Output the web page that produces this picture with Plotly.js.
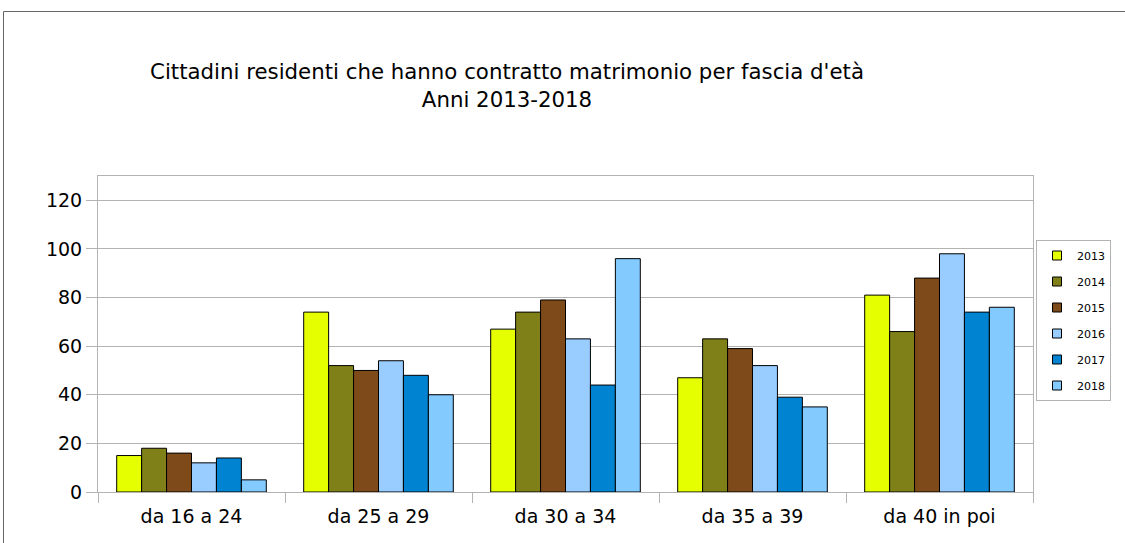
<!DOCTYPE html>
<html>
<head>
<meta charset="utf-8">
<script src="https://cdn.plot.ly/plotly-3.0.1.min.js"></script>
<style>html,body{margin:0;padding:0;background:#fff}#chart{width:1125px;height:543px}</style>
</head>
<body>
<div id="chart"></div>
<script>
const categories = ["da 16 a 24", "da 25 a 29", "da 30 a 34", "da 35 a 39", "da 40 in poi"];
const years = ["2013", "2014", "2015", "2016", "2017", "2018"];
const v2013 = [15, 74, 67, 47, 81];
const v2014 = [18, 52, 74, 63, 66];
const v2015 = [16, 50, 79, 59, 88];
const v2016 = [12, 54, 63, 52, 98];
const v2017 = [14, 48, 44, 39, 74];
const v2018 = [5, 40, 96, 35, 76];
const yTicks = [0, 20, 40, 60, 80, 100, 120];
const colors = ["#e6ff00", "#808019", "#7e4a1a", "#99ccff", "#0084d1", "#83caff"];
const series = [v2013, v2014, v2015, v2016, v2017, v2018];

const font = "DejaVu Sans, Verdana, sans-serif";
const traces = series.map((vals, i) => ({
  type: "bar",
  name: years[i],
  x: categories,
  y: vals,
  showlegend: false,
  marker: {color: colors[i], line: {color: "#000", width: 1}},
  hoverinfo: "x+y+name"
}));
// legend entries with small square swatches
years.forEach((yr, i) => traces.push({
  type: "scatter", mode: "markers", name: yr,
  x: [null], y: [null], legendgroup: yr,
  marker: {symbol: "square", size: 9, color: colors[i], line: {color: "#000", width: 1}},
  hoverinfo: "skip"
}));

const L = 98, R = 1033, T = 176, B = 492;
const W = R - L, H = B - T;
const px = p => (p - L) / W;
const py = p => (B - p) / H;

const layout = {
  width: 1125, height: 543,
  margin: {l: L, r: 1125 - R, t: T, b: 543 - B, pad: 0},
  paper_bgcolor: "#fff", plot_bgcolor: "#fff",
  font: {family: font, size: 19, color: "#000"},
  barmode: "group", bargap: 0.2, bargroupgap: 0,
  title: {
    text: "Cittadini residenti che hanno contratto matrimonio per fascia d'età<br>Anni 2013-2018",
    font: {family: font, size: 21.3, color: "#000"},
    xref: "paper", x: px(507), xanchor: "center",
    yref: "container", y: 1 - 79 / 543, yanchor: "top"
  },
  xaxis: {
    type: "category",
    showgrid: false,
    showline: true, linecolor: "#b3b3b3", linewidth: 1, mirror: true,
    ticks: "outside", tickson: "boundaries", ticklen: 10, tickcolor: "#b3b3b3",
    tickfont: {family: font, size: 19, color: "#000"},
    ticklabelstandoff: 7,
    zeroline: false
  },
  yaxis: {
    range: [0, 130],
    tickvals: yTicks,
    showgrid: true, gridcolor: "#b3b3b3", gridwidth: 1,
    showline: true, linecolor: "#b3b3b3", linewidth: 1, mirror: true,
    ticks: "outside", ticklen: 11, tickcolor: "#b3b3b3",
    tickfont: {family: font, size: 19, color: "#000"},
    zeroline: false
  },
  showlegend: true,
  legend: {
    x: px(1036), xanchor: "left", y: py(240), yanchor: "top",
    bordercolor: "#b3b3b3", borderwidth: 1, bgcolor: "#fff",
    font: {family: font, size: 11, color: "#000"},
    traceorder: "grouped", tracegroupgap: 7,
    itemwidth: 30
  },
  shapes: [{
    type: "rect", xref: "paper", yref: "paper",
    x0: px(3.5), x1: px(1140), y0: py(11.5), y1: py(560),
    line: {color: "#666", width: 1}, fillcolor: "rgba(0,0,0,0)", layer: "below"
  }]
};

Plotly.newPlot("chart", traces, layout, {displayModeBar: false, staticPlot: true});
</script>
</body>
</html>
